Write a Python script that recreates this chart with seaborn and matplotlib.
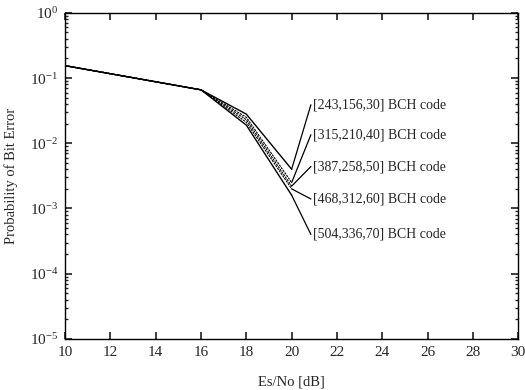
import matplotlib
matplotlib.use("Agg")
import matplotlib.pyplot as plt
import seaborn as sns
import pandas as pd
import numpy as np

es_no = [10, 16, 18, 20]
codes = ["[243,156,30] BCH code", "[315,210,40] BCH code", "[387,258,50] BCH code",
         "[468,312,60] BCH code", "[504,336,70] BCH code"]
ber_243 = [0.155, 0.066, 0.028, 0.0040]
ber_315 = [0.155, 0.066, 0.025, 0.0025]
ber_387 = [0.155, 0.066, 0.023, 0.0022]
ber_468 = [0.155, 0.066, 0.021, 0.0020]
ber_504 = [0.155, 0.066, 0.019, 0.0016]
series = [ber_243, ber_315, ber_387, ber_468, ber_504]

sns.set_theme(style="ticks")
plt.rcParams["font.family"] = ["Liberation Serif", "DejaVu Serif"]
plt.rcParams["mathtext.fontset"] = "custom"
plt.rcParams["mathtext.rm"] = "Liberation Serif"
plt.rcParams["mathtext.it"] = "Liberation Serif:italic"
plt.rcParams["mathtext.default"] = "rm"
plt.rcParams["axes.unicode_minus"] = False

rows = []
for c, vals in zip(codes, series):
    for x, v in zip(es_no, vals):
        rows.append({"EsNo": x, "BER": v, "code": c})
df = pd.DataFrame(rows)

fig = plt.figure(figsize=(5.25, 3.9), dpi=100)
ax = fig.add_axes([0.124, 0.131, 0.863, 0.836])

styles = {codes[0]: (None, 1.0), codes[1]: ((0, (2, 0.8)), 0.8), codes[2]: ((0, (2, 0.8)), 0.8),
          codes[3]: ((0, (2, 0.8)), 0.8), codes[4]: (None, 1.0)}
for c in codes:
    d = df[df["code"] == c]
    ls, lw = styles[c]
    sns.lineplot(data=d, x="EsNo", y="BER", ax=ax, color="black", lw=lw,
                 legend=False, estimator=None)
    if ls is not None:
        ax.lines[-1].set_linestyle(ls)

ax.set_yscale("log")
ax.set_xlim(10, 30)
ax.set_ylim(1e-5, 1)
ax.set_xticks(range(10, 31, 2))
ax.set_xlabel("Es/No [dB]", fontsize=10.5, labelpad=12)
ax.set_ylabel("Probability of Bit Error", fontsize=10.5, labelpad=8)
ax.tick_params(direction="in", which="both", top=True, right=True, labelsize=11)
ax.tick_params(which="major", length=5, pad=5)
ax.tick_params(which="minor", length=2.5)
for s in ax.spines.values():
    s.set_linewidth(1.0)
    s.set_color("black")

label_y = [0.039, 0.0135, 0.0044, 0.0014, 0.0004]
for c, vals, ly in zip(codes, series, label_y):
    ax.plot([es_no[-1], 20.85], [vals[-1], ly], color="black", lw=0.9)
    ax.text(20.95, ly, c, fontsize=10, va="center", ha="left")

fig.savefig("out.png", dpi=100)
